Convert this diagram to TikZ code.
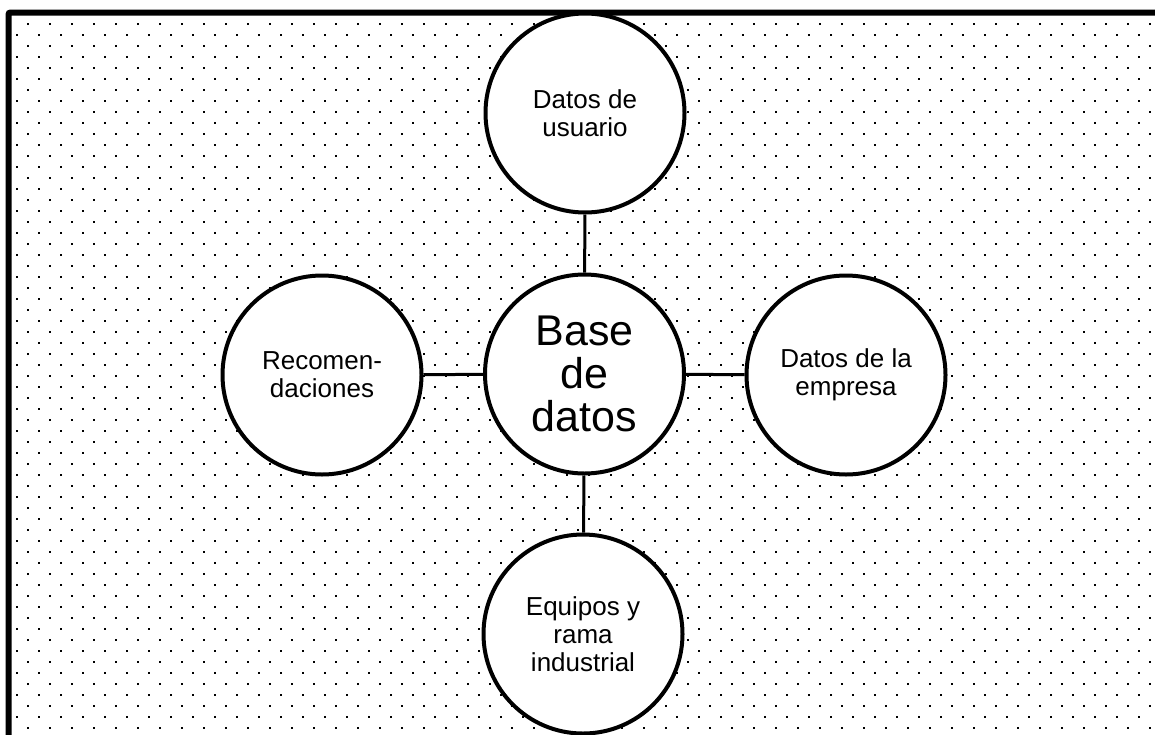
\documentclass[tikz,border=0pt]{standalone}
\usepackage{fontspec}
\setmainfont{Liberation Sans}
\begin{document}
\begin{tikzpicture}[x=1pt,y=-1pt,
  bubble/.style={circle,draw=black,line width=4pt,fill=white,minimum size=199pt,inner sep=0pt,align=center,font=\fontsize{26}{28}\selectfont},
  bigbubble/.style={bubble,font=\fontsize{43}{43}\selectfont},
  link/.style={draw=black,line width=3pt}]
\useasboundingbox (0,0) rectangle (1155,734);
\clip (0,0) rectangle (1155,734);
\fill[white] (0,0) rectangle (1155,734);
% dot pattern
\foreach \j in {0,...,32} {
  \foreach \k in {0,...,51} {
    \fill[black] ({28+22*\k-1.1},{24+22*\j-1.1}) rectangle +(2.2,2.2);
    \fill[black] ({17+22*\k-1.1},{35+22*\j-1.1}) rectangle +(2.2,2.2);
  }
}
% frame
\draw[line width=6pt,rounded corners=2pt] (8.5,760) -- (8.5,12.5) -- (1170,12.5);
% nodes
\node[bigbubble] (db) at (584.5,374) {Base\\de\\datos};
\node[bubble] (user) at (585,113) {Datos de\\usuario};
\node[bubble] (rec) at (322,375) {Recomen-\\daciones};
\node[bubble] (emp) at (846,375) {Datos de la\\empresa};
\node[bubble] (eq) at (583,634) {Equipos y\\rama\\industrial};
% links
\path[link] (db) -- (user);
\path[link] (db) -- (rec);
\path[link] (db) -- (emp);
\path[link] (db) -- (eq);
\end{tikzpicture}
\end{document}
